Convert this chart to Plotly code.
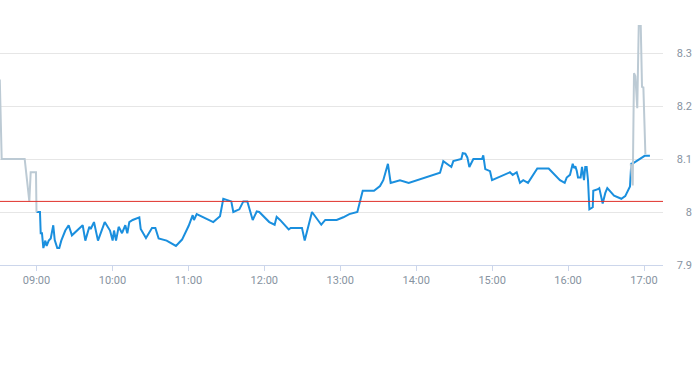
import plotly.graph_objects as go

DAY = "2024-01-02 "

# Pre-market (grey)
pre_times = ["08:31:00", "08:32:30", "08:50:40", "08:54:20", "08:55:25", "08:59:36", "09:00:00"]
pre_values = [8.25, 8.10, 8.10, 8.02, 8.075, 8.075, 8.00]

# Regular session (blue)
reg_times = [
    "09:00:00", "09:02:45", "09:03:20", "09:04:20", "09:05:25", "09:07:00", "09:08:00", "09:09:40",
    "09:11:15", "09:13:15", "09:14:25", "09:16:25", "09:18:00", "09:19:35", "09:22:45", "09:25:25",
    "09:28:00", "09:36:30", "09:38:35", "09:41:45", "09:42:50", "09:45:25", "09:48:35", "09:53:55",
    "09:58:05", "10:00:10", "10:01:15", "10:02:50", "10:04:55", "10:07:35", "10:10:10", "10:11:45",
    "10:13:20", "10:16:00", "10:21:15", "10:22:20", "10:26:30", "10:31:15", "10:33:55", "10:36:30",
    "10:42:50", "10:50:10", "10:55:00", "11:00:15", "11:03:25", "11:04:25", "11:06:35", "11:19:40",
    "11:25:00", "11:27:35", "11:33:55", "11:35:30", "11:40:15", "11:43:25", "11:46:35", "11:50:50",
    "11:54:00", "11:56:00", "12:03:55", "12:08:10", "12:09:45", "12:12:25", "12:19:15", "12:20:50",
    "12:29:45", "12:31:55", "12:37:40", "12:45:00", "12:48:10", "12:57:10", "13:02:25", "13:07:10",
    "13:13:30", "13:15:35", "13:17:45", "13:26:40", "13:31:25", "13:34:00", "13:37:40", "13:39:50",
    "13:47:10", "13:54:05", "14:18:50", "14:21:25", "14:27:45", "14:29:20", "14:35:40", "14:36:45",
    "14:38:50", "14:40:25", "14:42:00", "14:45:10", "14:52:00", "14:53:00", "14:54:35", "14:58:20",
    "14:59:55", "15:14:05", "15:16:15", "15:19:25", "15:22:00", "15:24:35", "15:28:20", "15:35:40",
    "15:44:40", "15:53:35", "15:57:20", "15:58:55", "16:01:30", "16:03:40", "16:04:40", "16:05:45",
    "16:06:50", "16:07:50", "16:09:55", "16:11:00", "16:12:35", "16:13:35", "16:14:40", "16:15:45",
    "16:16:50", "16:19:30", "16:19:55", "16:23:35", "16:24:40", "16:27:20", "16:29:25", "16:31:00",
    "16:36:20", "16:42:05", "16:45:10", "16:48:55", "16:49:55", "16:51:20", "16:53:40", "17:00:30",
    "17:04:40",
]
reg_values = [
    8.000, 8.000, 7.960, 7.960, 7.932, 7.946, 7.936, 7.946,
    7.950, 7.975, 7.947, 7.932, 7.932, 7.946, 7.965, 7.975,
    7.956, 7.975, 7.946, 7.972, 7.968, 7.981, 7.946, 7.981,
    7.965, 7.946, 7.965, 7.946, 7.972, 7.960, 7.975, 7.960,
    7.981, 7.985, 7.990, 7.968, 7.951, 7.970, 7.970, 7.950,
    7.946, 7.936, 7.948, 7.974, 7.994, 7.985, 7.996, 7.981,
    7.992, 8.025, 8.020, 8.000, 8.005, 8.020, 8.020, 7.985,
    8.001, 8.000, 7.981, 7.976, 7.991, 7.985, 7.967, 7.970,
    7.970, 7.946, 8.000, 7.976, 7.985, 7.985, 7.990, 7.996,
    8.000, 8.020, 8.040, 8.040, 8.049, 8.060, 8.091, 8.055,
    8.060, 8.055, 8.074, 8.096, 8.085, 8.096, 8.100, 8.111,
    8.110, 8.103, 8.085, 8.100, 8.100, 8.107, 8.081, 8.077,
    8.060, 8.075, 8.070, 8.075, 8.055, 8.060, 8.055, 8.082,
    8.082, 8.060, 8.055, 8.065, 8.070, 8.091, 8.083, 8.086,
    8.078, 8.065, 8.065, 8.085, 8.060, 8.085, 8.085, 8.060,
    8.005, 8.009, 8.040, 8.043, 8.045, 8.016, 8.036, 8.045,
    8.031, 8.025, 8.030, 8.048, 8.091, 8.092, 8.096, 8.106,
    8.106,
]

# After-hours (grey)
post_times = ["16:49:30", "16:51:05", "16:52:05", "16:53:10", "16:54:40", "16:55:50",
              "16:57:25", "16:58:25", "16:59:30", "17:01:05"]
post_values = [8.091, 8.050, 8.262, 8.256, 8.196, 8.351, 8.351, 8.236, 8.235, 8.109]

PREV_CLOSE = 8.02

y_ticks = [7.9, 8.0, 8.1, 8.2, 8.3]
x_range = ["08:31:10", "17:15:00"]
y_range = [7.9, 8.4]

BLUE = "#1a8fde"
GREY = "#bccad4"
RED = "#e0302a"
LABEL = "#8793a1"

def ts(lst):
    return [DAY + t for t in lst]

fig = go.Figure()
fig.add_trace(go.Scatter(x=ts(reg_times), y=reg_values, mode="lines",
                         line=dict(color=BLUE, width=2), hoverinfo="skip"))
fig.add_trace(go.Scatter(x=ts(pre_times), y=pre_values, mode="lines",
                         line=dict(color=GREY, width=2), hoverinfo="skip"))
fig.add_trace(go.Scatter(x=ts(post_times), y=post_values, mode="lines",
                         line=dict(color=GREY, width=2), hoverinfo="skip"))

fig.add_shape(type="line", xref="x domain", x0=0, x1=1, yref="y",
              y0=PREV_CLOSE, y1=PREV_CLOSE, line=dict(color=RED, width=1), layer="above")

fig.update_layout(
    width=693, height=365,
    margin=dict(l=0, r=0, t=0, b=100, autoexpand=False),
    paper_bgcolor="white", plot_bgcolor="white",
    showlegend=False,
    font=dict(family="Roboto, sans-serif", size=11, color=LABEL),
    xaxis=dict(
        domain=[0, 663 / 693],
        type="date",
        range=ts(x_range),
        tickformat="%H:%M",
        dtick=3600000,
        tick0=DAY + "09:00:00",
        ticks="outside", ticklen=5, tickcolor="#ccd6eb", tickwidth=1,
        showline=True, linecolor="#ccd6eb", linewidth=1,
        showgrid=False, zeroline=False, automargin=False,
        tickfont=dict(size=11, color=LABEL),
    ),
    yaxis=dict(
        range=y_range,
        tickvals=y_ticks,
        anchor="free", position=1.0, side="left",
        ticks="", showline=False, zeroline=False, automargin=False,
        showgrid=True, gridcolor="#e6e6e6", gridwidth=1,
        ticklabelstandoff=1,
        tickfont=dict(size=11, color=LABEL),
    ),
)

fig.write_html("out.html", config={"displayModeBar": False},
               post_script="document.body.style.margin='0';document.body.style.overflow='hidden';")
